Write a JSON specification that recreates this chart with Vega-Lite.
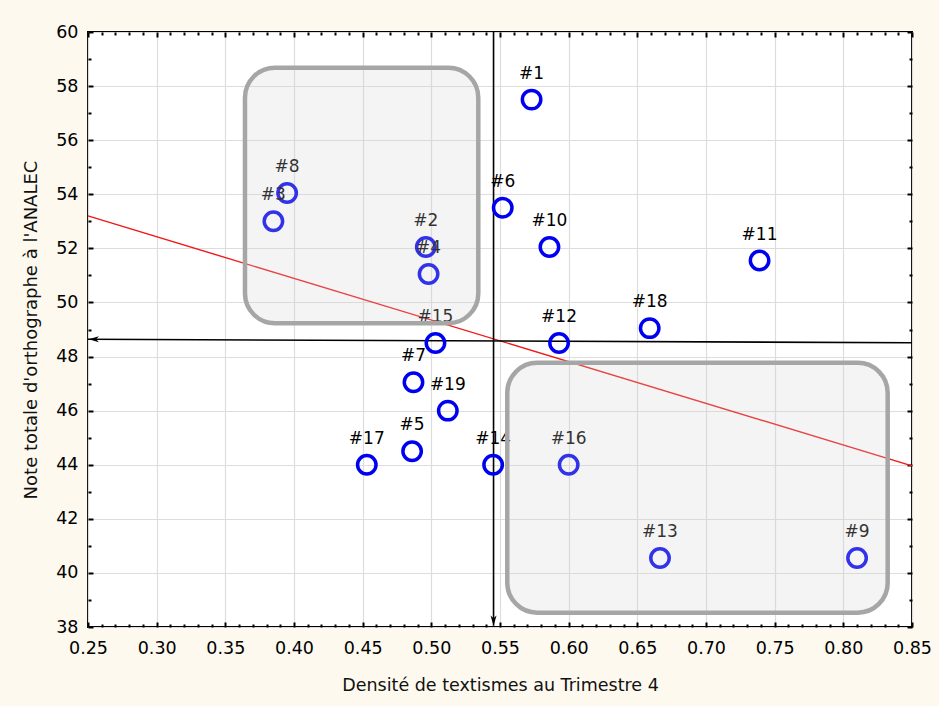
{
  "$schema": "https://vega.github.io/schema/vega-lite/v6.json",
  "width": 824,
  "height": 595,
  "autosize": "none",
  "padding": {"left": 88, "top": 32, "right": 27, "bottom": 79},
  "background": "#fdf9ee",
  "config": {
    "view": {"fill": "white", "stroke": "#000", "strokeWidth": 2},
    "font": "DejaVu Sans",
    "axis": {"labelFont": "DejaVu Sans", "titleFont": "DejaVu Sans", "labelColor": "#000", "titleColor": "#111", "titleFontWeight": "normal", "tickColor": "#000", "tickWidth": 2, "gridColor": "#dddddd", "gridWidth": 1.2}
  },
  "datasets": {
    "pts": [
      {"id": "#1", "dens": 0.573, "note": 57.5},
      {"id": "#2", "dens": 0.496, "note": 52.05},
      {"id": "#3", "dens": 0.385, "note": 53.0},
      {"id": "#4", "dens": 0.498, "note": 51.05},
      {"id": "#5", "dens": 0.486, "note": 44.5},
      {"id": "#6", "dens": 0.552, "note": 53.5},
      {"id": "#7", "dens": 0.487, "note": 47.05},
      {"id": "#8", "dens": 0.395, "note": 54.05},
      {"id": "#9", "dens": 0.810, "note": 40.55},
      {"id": "#10", "dens": 0.586, "note": 52.05},
      {"id": "#11", "dens": 0.739, "note": 51.55},
      {"id": "#12", "dens": 0.593, "note": 48.5},
      {"id": "#13", "dens": 0.6665, "note": 40.55},
      {"id": "#14", "dens": 0.545, "note": 44.0},
      {"id": "#15", "dens": 0.503, "note": 48.5},
      {"id": "#16", "dens": 0.600, "note": 44.0},
      {"id": "#17", "dens": 0.453, "note": 44.0},
      {"id": "#18", "dens": 0.659, "note": 49.05},
      {"id": "#19", "dens": 0.512, "note": 46.0}
    ],
    "fit": [
      {"dens": 0.25, "note": 53.2},
      {"dens": 0.85, "note": 43.96}
    ],
    "hline": [
      {"dens": 0.25, "note": 48.64},
      {"dens": 0.85, "note": 48.51}
    ],
    "vline": [
      {"dens": 0.5453, "note": 60},
      {"dens": 0.5453, "note": 38.05}
    ],
    "boxes": [
      {"x1": 0.3643, "x2": 0.5342, "y1": 58.68, "y2": 49.23},
      {"x1": 0.5553, "x2": 0.8323, "y1": 47.77, "y2": 38.53}
    ],
    "arrowDown": [{"dens": 0.5453, "note": 38.05}],
    "arrowLeft": [{"dens": 0.2505, "note": 48.64}]
  },
  "layer": [
    {
      "data": {"name": "fit"},
      "mark": {"type": "line", "color": "#f01818", "strokeWidth": 1.4},
      "encoding": {
        "x": {"field": "dens", "type": "quantitative",
          "scale": {"domain": [0.25, 0.85], "nice": false, "zero": false},
          "axis": {"orient": "bottom", "title": "Densité de textismes au Trimestre 4", "titleFontSize": 17.5, "titlePadding": 20,
            "values": [0.25, 0.3, 0.35, 0.4, 0.45, 0.5, 0.55, 0.6, 0.65, 0.7, 0.75, 0.8, 0.85], "format": ".2f",
            "labelFontSize": 17.5, "labelPadding": 12, "ticks": false, "domain": false, "grid": true, "labelFlush": false}},
        "y": {"field": "note", "type": "quantitative",
          "scale": {"domain": [38, 60], "nice": false, "zero": false},
          "axis": {"orient": "left", "title": "Note totale d'orthographe à l'ANALEC", "titleFontSize": 18, "titlePadding": 15,
            "values": [38, 40, 42, 44, 46, 48, 50, 52, 54, 56, 58, 60],
            "labelFontSize": 17.5, "labelPadding": 10, "ticks": false, "domain": false, "grid": true, "labelFlush": false}}
      }
    },
    {
      "data": {"name": "hline"},
      "mark": {"type": "line", "color": "#000", "strokeWidth": 1.6},
      "encoding": {
        "x": {"field": "dens", "type": "quantitative",
          "axis": {"orient": "bottom", "title": null, "labels": false, "grid": false, "domain": false,
            "values": [0.25, 0.3, 0.35, 0.4, 0.45, 0.5, 0.55, 0.6, 0.65, 0.7, 0.75, 0.8, 0.85], "tickSize": -5}},
        "y": {"field": "note", "type": "quantitative",
          "axis": {"orient": "left", "title": null, "labels": false, "grid": false, "domain": false,
            "values": [38, 40, 42, 44, 46, 48, 50, 52, 54, 56, 58, 60], "tickSize": -5}}
      }
    },
    {
      "data": {"name": "vline"},
      "mark": {"type": "line", "color": "#000", "strokeWidth": 1.6},
      "encoding": {
        "x": {"field": "dens", "type": "quantitative",
          "axis": {"orient": "bottom", "title": null, "labels": false, "grid": false, "domain": false,
            "values": [0.26, 0.27, 0.28, 0.29, 0.31, 0.32, 0.33, 0.34, 0.36, 0.37, 0.38, 0.39, 0.41, 0.42, 0.43, 0.44, 0.46, 0.47, 0.48, 0.49, 0.51, 0.52, 0.53, 0.54, 0.56, 0.57, 0.58, 0.59, 0.61, 0.62, 0.63, 0.64, 0.66, 0.67, 0.68, 0.69, 0.71, 0.72, 0.73, 0.74, 0.76, 0.77, 0.78, 0.79, 0.81, 0.82, 0.83, 0.84], "tickSize": -3}},
        "y": {"field": "note", "type": "quantitative",
          "axis": {"orient": "left", "title": null, "labels": false, "grid": false, "domain": false,
            "values": [39, 41, 43, 45, 47, 49, 51, 53, 55, 57, 59], "tickSize": -3}}
      }
    },
    {
      "data": {"name": "pts"},
      "mark": {"type": "point", "shape": "circle", "filled": false, "color": "#0000f0", "strokeWidth": 3.5, "size": 340, "opacity": 1},
      "encoding": {
        "x": {"field": "dens", "type": "quantitative",
          "axis": {"orient": "top", "title": null, "labels": false, "grid": false, "domain": false,
            "values": [0.25, 0.3, 0.35, 0.4, 0.45, 0.5, 0.55, 0.6, 0.65, 0.7, 0.75, 0.8, 0.85], "tickSize": -5}},
        "y": {"field": "note", "type": "quantitative",
          "axis": {"orient": "right", "title": null, "labels": false, "grid": false, "domain": false,
            "values": [38, 40, 42, 44, 46, 48, 50, 52, 54, 56, 58, 60], "tickSize": -5}}
      }
    },
    {
      "data": {"name": "pts"},
      "mark": {"type": "text", "font": "DejaVu Sans", "fontSize": 17, "color": "#000", "baseline": "middle", "align": "center", "dy": -26},
      "encoding": {
        "x": {"field": "dens", "type": "quantitative",
          "axis": {"orient": "top", "title": null, "labels": false, "grid": false, "domain": false,
            "values": [0.26, 0.27, 0.28, 0.29, 0.31, 0.32, 0.33, 0.34, 0.36, 0.37, 0.38, 0.39, 0.41, 0.42, 0.43, 0.44, 0.46, 0.47, 0.48, 0.49, 0.51, 0.52, 0.53, 0.54, 0.56, 0.57, 0.58, 0.59, 0.61, 0.62, 0.63, 0.64, 0.66, 0.67, 0.68, 0.69, 0.71, 0.72, 0.73, 0.74, 0.76, 0.77, 0.78, 0.79, 0.81, 0.82, 0.83, 0.84], "tickSize": -3}},
        "y": {"field": "note", "type": "quantitative",
          "axis": {"orient": "right", "title": null, "labels": false, "grid": false, "domain": false,
            "values": [39, 41, 43, 45, 47, 49, 51, 53, 55, 57, 59], "tickSize": -3}},
        "text": {"field": "id"}
      }
    },
    {
      "data": {"name": "boxes"},
      "mark": {"type": "rect", "fill": "#d2d2d2", "fillOpacity": 0.24, "stroke": "#a6a6a6", "strokeWidth": 4.5, "strokeOpacity": 1, "cornerRadius": 30},
      "encoding": {
        "x": {"field": "x1", "type": "quantitative", "axis": null},
        "x2": {"field": "x2"},
        "y": {"field": "y1", "type": "quantitative", "axis": null},
        "y2": {"field": "y2"}
      }
    },
    {
      "data": {"name": "arrowDown"},
      "mark": {"type": "point", "shape": "M0,0 L-1,-3.4 L0,-2.5 L1,-3.4 Z", "filled": true, "color": "#000", "size": 36, "opacity": 1},
      "encoding": {
        "x": {"field": "dens", "type": "quantitative", "axis": null},
        "y": {"field": "note", "type": "quantitative", "axis": null}
      }
    },
    {
      "data": {"name": "arrowLeft"},
      "mark": {"type": "point", "shape": "M0,0 L3.4,-1 L2.5,0 L3.4,1 Z", "filled": true, "color": "#000", "size": 36, "opacity": 1},
      "encoding": {
        "x": {"field": "dens", "type": "quantitative", "axis": null},
        "y": {"field": "note", "type": "quantitative", "axis": null}
      }
    }
  ],
  "resolve": {"axis": {"x": "independent", "y": "independent"}}
}
